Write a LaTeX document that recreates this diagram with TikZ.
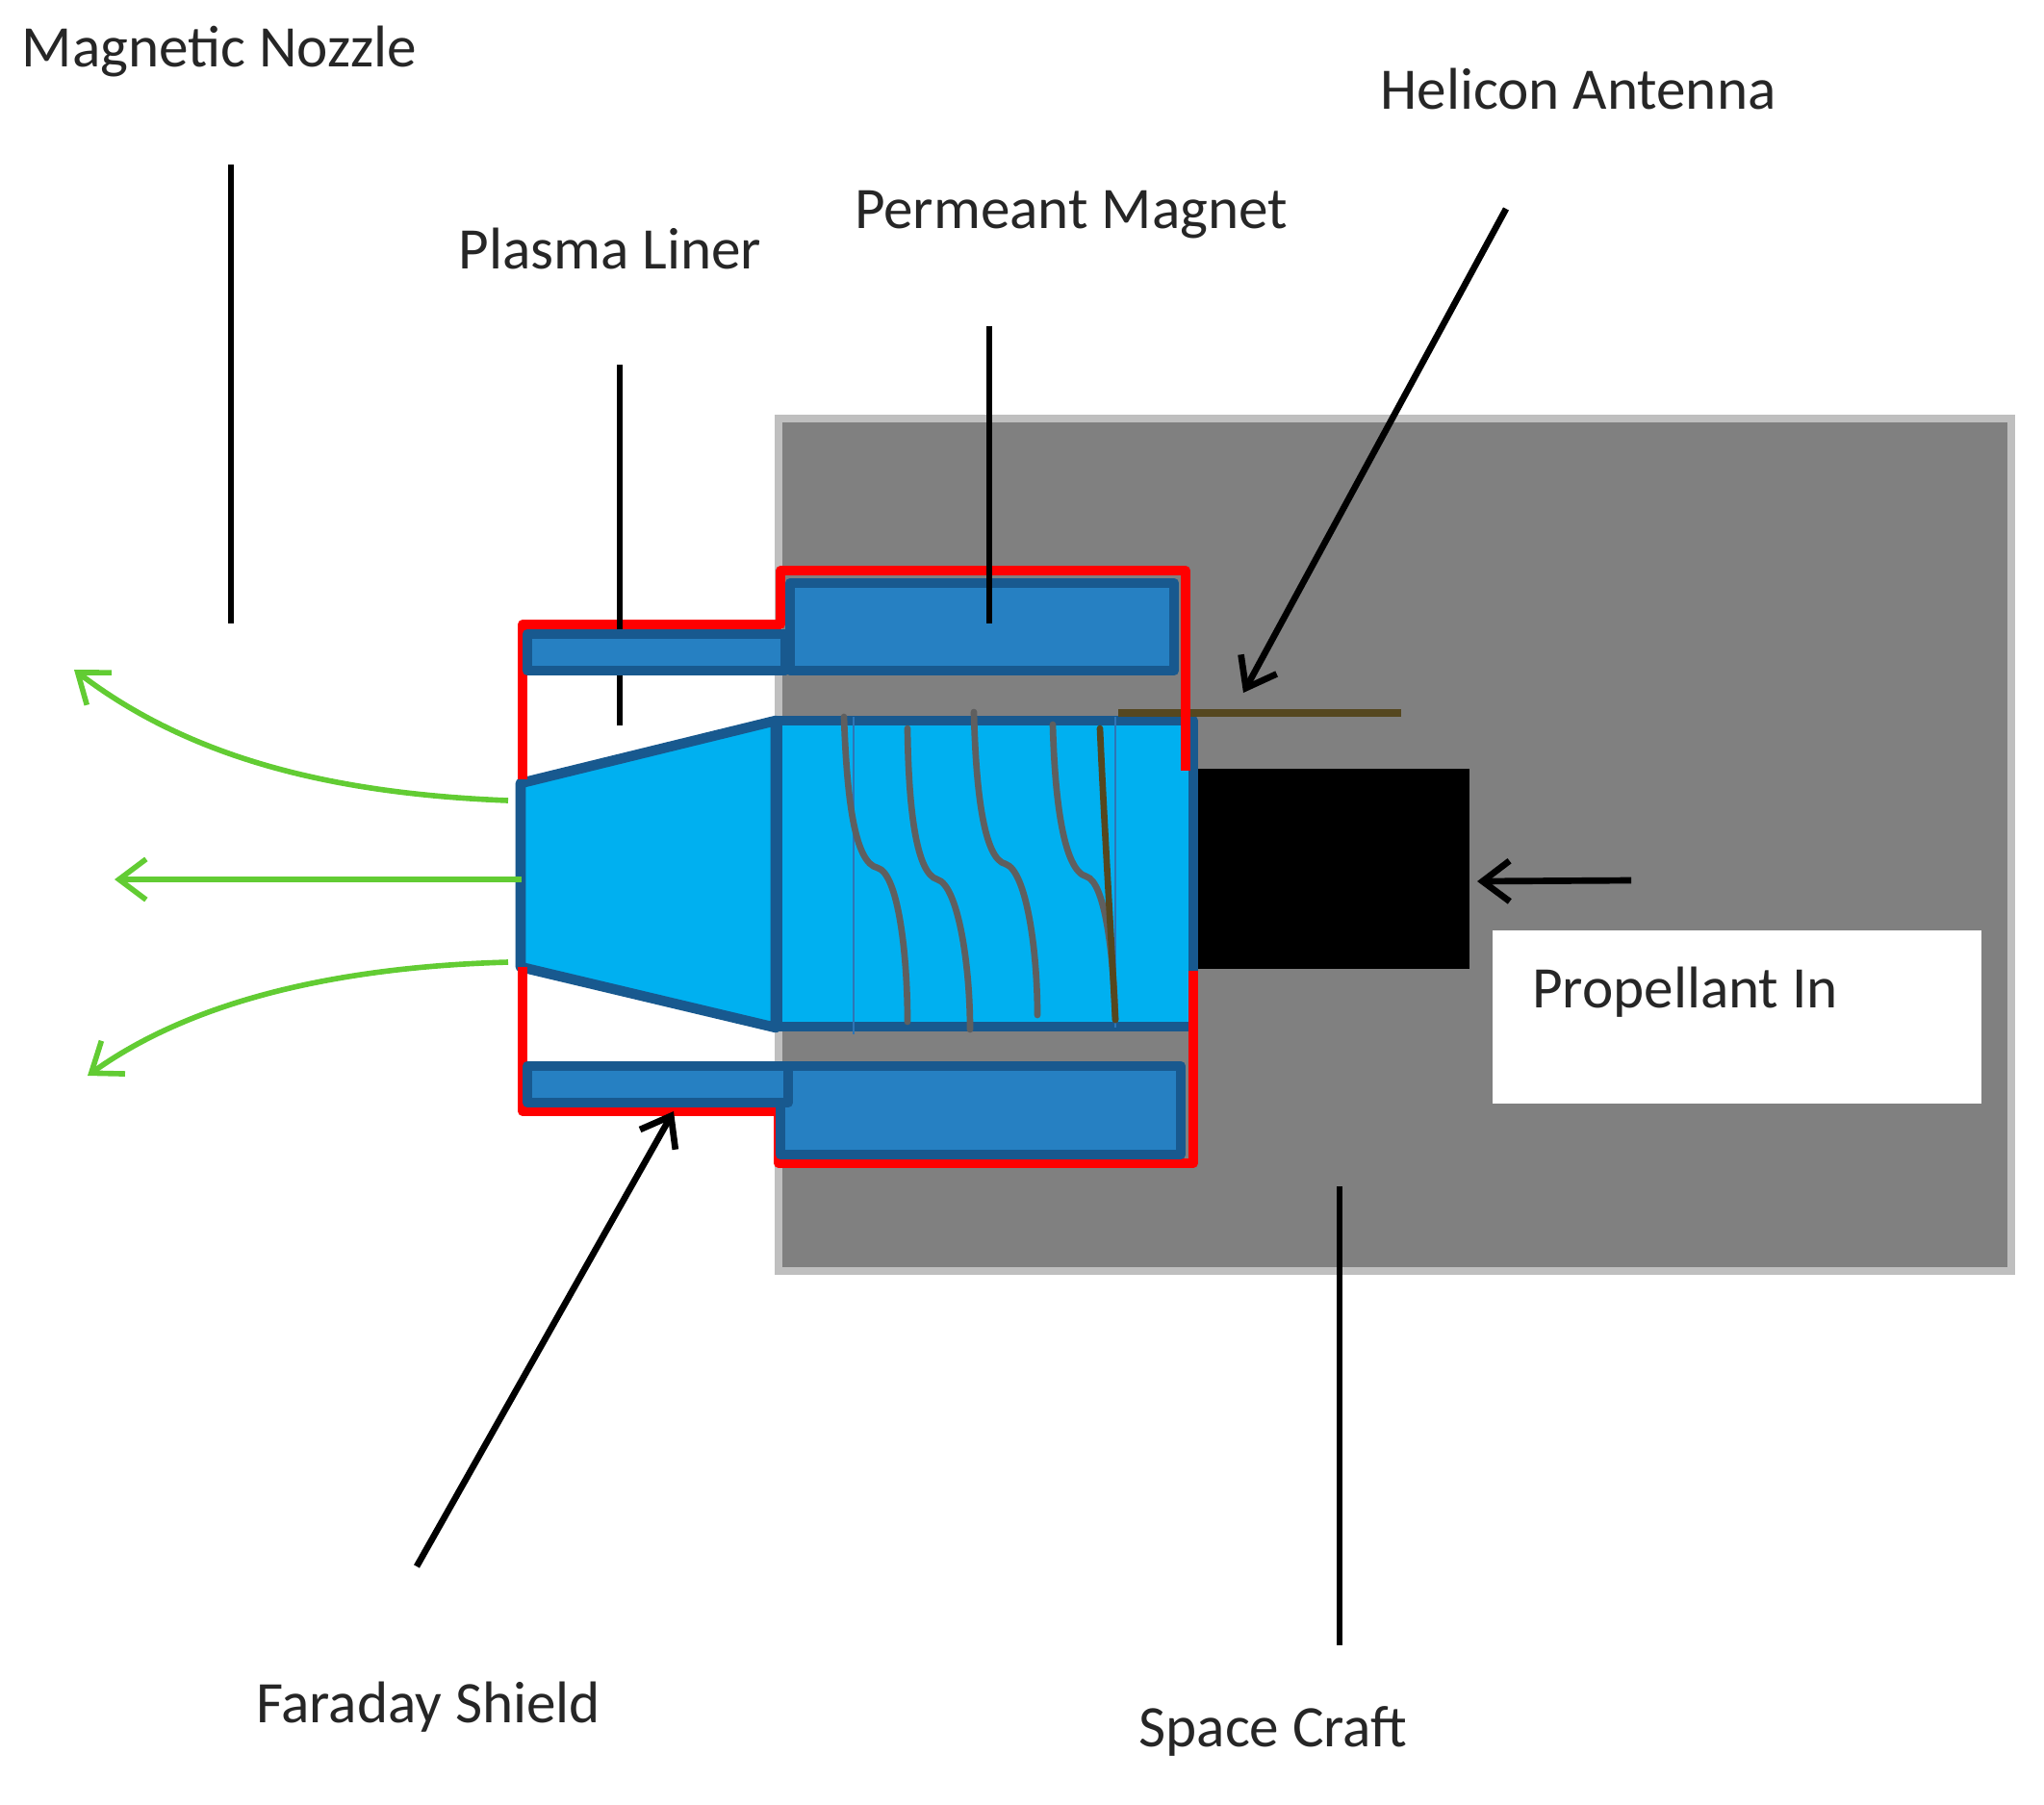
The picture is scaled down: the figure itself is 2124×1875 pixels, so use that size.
\documentclass[tikz,border=0pt]{standalone}
\usepackage{fontspec}
\setmainfont{Carlito}
\usepackage{xcolor}
\usetikzlibrary{arrows.meta}
\definecolor{hullgray}{HTML}{808080}
\definecolor{hulledge}{HTML}{BFBFBF}
\definecolor{magblue}{HTML}{2680C2}
\definecolor{edgeblue}{HTML}{18598F}
\definecolor{plasmablue}{HTML}{00B0F0}
\definecolor{shieldred}{HTML}{FF0000}
\definecolor{coilgray}{HTML}{5F5F5F}
\definecolor{antbrown}{HTML}{55471F}
\definecolor{plumegreen}{HTML}{62CC33}
\definecolor{seamblue}{HTML}{2E75B6}

\begin{document}
\begin{tikzpicture}[x=0.01cm, y=-0.01cm,
  lbl/.style={font=\fontsize{17.4}{20}\selectfont, text=black!85, inner sep=0pt},
  ldr/.style={line width=1.9pt, black},
  arw/.style={line width=1.9pt, black, -{Straight Barb[length=8pt, width=12pt, line width=1.9pt]}},
  plume/.style={line width=1.6pt, plumegreen, -{Straight Barb[length=8pt, width=12pt, line width=1.6pt]}},
  mag/.style={draw=edgeblue, line width=3pt, fill=magblue, line join=round},
  chamber/.style={draw=edgeblue, line width=3pt, fill=plasmablue, line join=round},
  shield/.style={draw=shieldred, line width=2.8pt, line join=round},
  coil/.style={draw=coilgray, line width=1.9pt, line cap=round}]
\useasboundingbox (0,0) rectangle (2124,1875);

% space craft body and the boxes on it
\draw[draw=hulledge, line width=2.2pt, fill=hullgray] (809,435) rectangle (2090,1321);
\fill[white] (1551,967) rectangle (2059,1147);
\fill[black] (1245,799) rectangle (1527,1007);

% free ends of the leaders
\coordinate (nozzleTop) at (240,171);
\coordinate (nozzleEnd) at (240,648);
\coordinate (linerTop) at (644,379);
\coordinate (linerEnd) at (644,754);
\coordinate (magTop) at (1028,339);
\coordinate (magEnd) at (1028,648);
\coordinate (helTop) at (1565,217);
\coordinate (helEnd) at (1292,720);
\coordinate (propTop) at (1695,915);
\coordinate (propEnd) at (1535,916);
\coordinate (farTop) at (433,1628);
\coordinate (farEnd) at (700,1155);
\coordinate (craftTop) at (1392,1233);
\coordinate (craftEnd) at (1392,1710);

% plasma chamber
\draw[chamber] (541,814) -- (806,749) -- (806,1068) -- (541,1005) -- cycle;
\draw[chamber] (808,749) rectangle (1240,1067);
\draw[draw=antbrown, line width=2.4pt] (1162,741) -- (1456,741);

% antenna turns
\draw[seamblue, line width=0.7pt] (887,745) -- (887,1075);
\draw[seamblue, line width=0.7pt] (1159,745) -- (1159,1068);
\draw[coil] (877,745) .. controls (880,830) and (888,897) .. (912,902) .. controls (933,908) and (943,990) .. (943,1062);
\draw[coil] (943,757) .. controls (944,840) and (952,908) .. (974,914) .. controls (995,920) and (1008,1000) .. (1008,1070);
\draw[coil] (1012,740) .. controls (1014,820) and (1022,893) .. (1045,898) .. controls (1066,905) and (1078,985) .. (1078,1055);
\draw[coil] (1094,753) .. controls (1096,830) and (1105,905) .. (1129,911) .. controls (1148,917) and (1157,990) .. (1159,1060);
\draw[coil, draw=antbrown] (1143,757) .. controls (1147,850) and (1155,980) .. (1159,1060);

% faraday shield
\draw[shield] (1232,801) -- (1232,593) -- (811,593) -- (811,649) -- (543,649) -- (543,810);
\draw[shield] (543,1005) -- (543,1155) -- (809,1155) -- (809,1209) -- (1240,1209) -- (1240,1009);

\draw[ldr] (linerTop) -- (linerEnd);

% magnets
\draw[mag] (548,659) rectangle (816,697);
\draw[mag] (821,606) rectangle (1220,697);
\draw[mag] (811,1108) rectangle (1227,1200);
\draw[mag] (548,1108) rectangle (819,1146);

% plume
\coordinate (plumeA) at (528,832);
\coordinate (plumeB) at (542,914);
\coordinate (plumeC) at (528,1000);
\coordinate (plumeAend) at (77,696);
\coordinate (plumeBend) at (119,914);
\coordinate (plumeCend) at (91,1118);
\draw[plume] (plumeA) .. controls (350,825) and (200,790) .. (plumeAend);
\draw[plume] (plumeB) -- (plumeBend);
\draw[plume] (plumeC) .. controls (350,1005) and (200,1040) .. (plumeCend);

% leaders
\draw[ldr] (nozzleTop) -- (nozzleEnd);
\draw[ldr] (magTop) -- (magEnd);
\draw[ldr] (craftTop) -- (craftEnd);
\draw[arw] (helTop) -- (helEnd);
\draw[arw] (propTop) -- (propEnd);
\draw[arw] (farTop) -- (farEnd);

% labels
\node[lbl] (nozzleLbl) at (228,54) {Magnetic Nozzle};
\node[lbl] (linerLbl) at (634,258) {Plasma Liner};
\node[lbl] (magLbl) at (1113,223) {Permeant Magnet};
\node[lbl] (helLbl) at (1640,92) {Helicon Antenna};
\node[lbl] (propLbl) at (1751,1031) {Propellant In};
\node[lbl] (farLbl) at (445,1774) {Faraday Shield};
\node[lbl] (craftLbl) at (1323,1799) {Space Craft};
\end{tikzpicture}
\end{document}
